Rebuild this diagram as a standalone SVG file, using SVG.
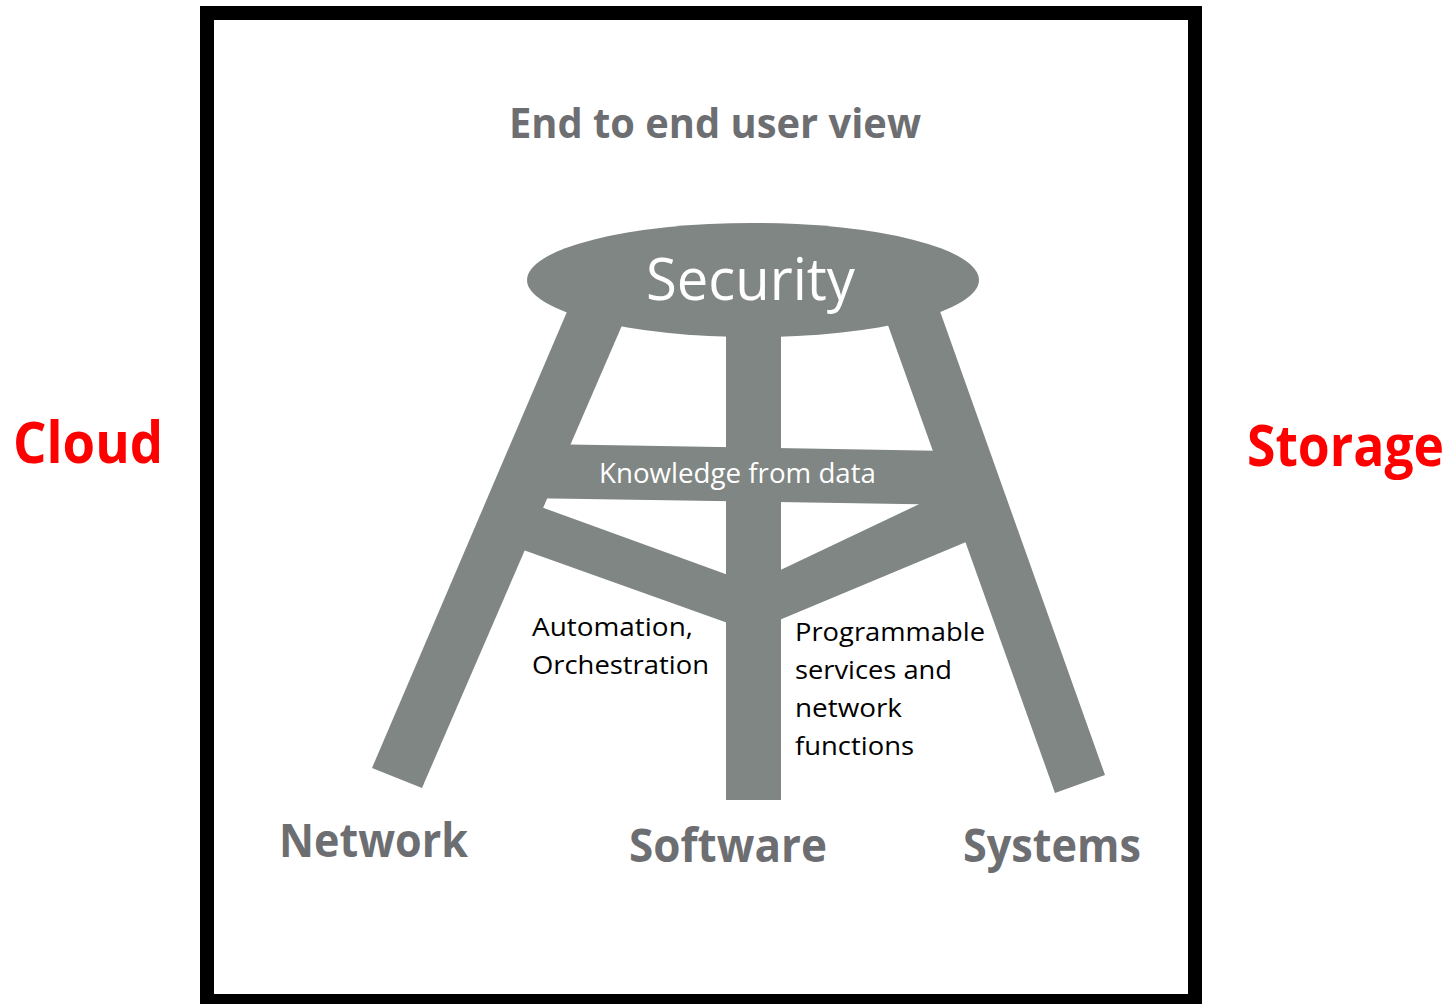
<svg xmlns="http://www.w3.org/2000/svg" width="1456" height="1004" viewBox="0 0 1456 1004">
<style>
.stool{fill:#808683}
.title{font-family:"Open Sans","Noto Sans",sans-serif;font-weight:bold;fill:#6d6e71}
.white{font-family:"Open Sans","Noto Sans",sans-serif;fill:#ffffff}
.black{font-family:"Open Sans","Noto Sans",sans-serif;fill:#000000;font-size:25px}
.red{font-family:"Open Sans","Noto Sans",sans-serif;font-weight:bold;fill:#ff0000;font-size:58px}
</style>
<rect width="1456" height="1004" fill="#ffffff"/>
<rect id="frame" x="207" y="13" width="988" height="988" fill="none" stroke="#000000" stroke-width="14"/>
<text class="title" x="509" y="138" font-size="42" textLength="412" lengthAdjust="spacingAndGlyphs">End to end user view</text>
<g id="stool">
  <g id="left-leg"><polygon class="stool" points="572,300 633,300 422,788 372,768"/></g>
  <g id="right-leg"><polygon class="stool" points="879,300 936,300 1105,775 1055,793"/></g>
  <g id="center-leg"><rect class="stool" x="726" y="300" width="55" height="500"/></g>
  <g id="knowledge-bar"><polygon class="stool" points="540,444 950,451 965,505 520,498"/></g>
  <g id="left-brace"><polygon class="stool" points="530,503 753,584 753,632 515,547"/></g>
  <g id="right-brace"><polygon class="stool" points="753,583 930,499 990,499 990,532 753,631"/></g>
  <g id="seat"><ellipse class="stool" cx="753" cy="280" rx="226" ry="57"/>
    <text class="white" x="646" y="300" font-size="58" textLength="209" lengthAdjust="spacingAndGlyphs">Security</text></g>
  <text class="white" x="599" y="483" font-size="27" textLength="277" lengthAdjust="spacingAndGlyphs">Knowledge from data</text>
</g>
<g id="automation">
  <text class="black" x="532" y="636" textLength="161" lengthAdjust="spacingAndGlyphs">Automation,</text>
  <text class="black" x="532" y="674" textLength="177" lengthAdjust="spacingAndGlyphs">Orchestration</text>
</g>
<g id="programmable">
  <text class="black" x="795" y="641" textLength="190" lengthAdjust="spacingAndGlyphs">Programmable</text>
  <text class="black" x="795" y="679" textLength="157" lengthAdjust="spacingAndGlyphs">services and</text>
  <text class="black" x="795" y="717" textLength="107" lengthAdjust="spacingAndGlyphs">network</text>
  <text class="black" x="795" y="755" textLength="119" lengthAdjust="spacingAndGlyphs">functions</text>
</g>
<g id="network"><text class="title" x="279" y="857" font-size="46" textLength="189" lengthAdjust="spacingAndGlyphs">Network</text></g>
<g id="software"><text class="title" x="629" y="862" font-size="46" textLength="198" lengthAdjust="spacingAndGlyphs">Software</text></g>
<g id="systems"><text class="title" x="963" y="862" font-size="46" textLength="178" lengthAdjust="spacingAndGlyphs">Systems</text></g>
<g id="cloud"><text class="red" x="13" y="463" textLength="150" lengthAdjust="spacingAndGlyphs">Cloud</text></g>
<g id="storage"><text class="red" transform="translate(1247,466) scale(0.89,1)" x="0" y="0">Storage</text></g>
</svg>
